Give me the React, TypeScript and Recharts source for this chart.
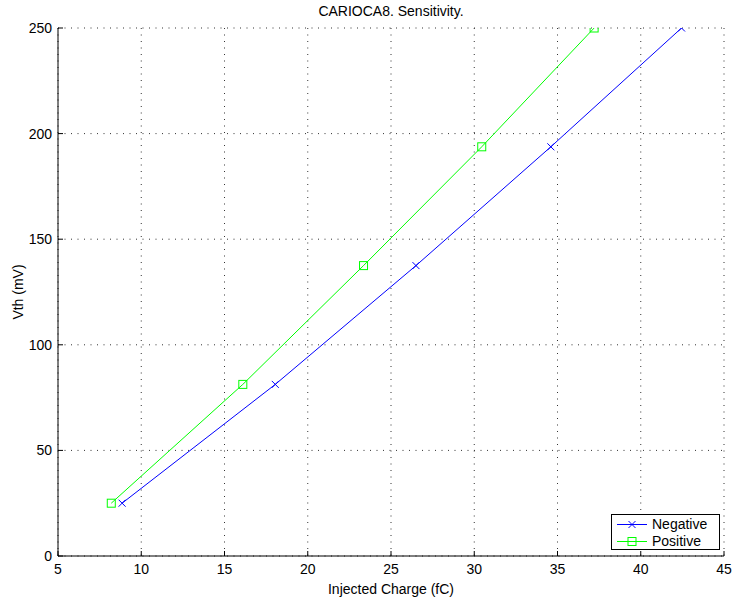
import { CartesianGrid, Label, Legend, Line, LineChart, XAxis, YAxis } from 'recharts';

const vth = [25, 81.25, 137.5, 193.75, 250];
const negativeCharge = [8.85, 18.05, 26.5, 34.6, 42.45];
const positiveCharge = [8.2, 16.1, 23.35, 30.45, 37.2];

const xTicks = [5, 10, 15, 20, 25, 30, 35, 40, 45];
const yTicks = [0, 50, 100, 150, 200, 250];

const negative = negativeCharge.map((q, i) => ({ q, v: vth[i] }));
const positive = positiveCharge.map((q, i) => ({ q, v: vth[i] }));

const FONT = '"Liberation Sans", Arial, Helvetica, sans-serif';
const FS = 14;
const BLUE = '#0000ff';
const GREEN = '#00ff00';

function Cross({ cx, cy, color, index }: any) {
  const s = 3.5;
  return (
    <g key={`x-${index}`}>
      <line x1={cx - s} y1={cy - s} x2={cx + s} y2={cy + s} stroke={color} strokeWidth={1} />
      <line x1={cx - s} y1={cy + s} x2={cx + s} y2={cy - s} stroke={color} strokeWidth={1} />
    </g>
  );
}

function Square({ cx, cy, color, index }: any) {
  const s = 4;
  return (
    <rect key={`s-${index}`} x={cx - s} y={cy - s} width={2 * s} height={2 * s} fill="none" stroke={color} strokeWidth={1} />
  );
}

// inward ticks, matlab style
const BottomTick = ({ x, y, payload }: any) => (
  <g>
    <line x1={x} y1={y} x2={x} y2={y - 5} stroke="#000" />
    <text x={x} y={y + 18} textAnchor="middle" fontSize={FS} fontFamily={FONT} fill="#000">
      {payload.value}
    </text>
  </g>
);

const LeftTick = ({ x, y, payload }: any) => (
  <g>
    <line x1={x} y1={y} x2={x + 5} y2={y} stroke="#000" />
    <text x={x - 6} y={y + 5} textAnchor="end" fontSize={FS} fontFamily={FONT} fill="#000">
      {payload.value}
    </text>
  </g>
);

const TopTick = ({ x, y }: any) => <line x1={x} y1={y} x2={x} y2={y + 5} stroke="#000" />;
const RightTick = ({ x, y }: any) => <line x1={x} y1={y} x2={x - 5} y2={y} stroke="#000" />;

function LegendBox() {
  const items = [
    { name: 'Negative', color: BLUE, Mark: Cross },
    { name: 'Positive', color: GREEN, Mark: Square },
  ];
  return (
    <div
      style={{
        width: 107,
        height: 34,
        border: '1px solid #000',
        background: '#fff',
        fontFamily: FONT,
        fontSize: FS,
        boxSizing: 'content-box',
      }}
    >
      {items.map(({ name, color, Mark }, i) => (
        <div key={name} style={{ display: 'flex', alignItems: 'center', height: 17, marginTop: i === 0 ? 1 : 0 }}>
          <svg width={40} height={17} style={{ display: 'block' }}>
            <line x1={5} y1={8.5} x2={35} y2={8.5} stroke={color} />
            <Mark cx={20} cy={8.5} color={color} index={i} />
          </svg>
          <span style={{ lineHeight: '17px' }}>{name}</span>
        </div>
      ))}
    </div>
  );
}

export default function App() {
  return (
    <div style={{ position: 'absolute', left: 0, top: 0, width: 736, height: 599, background: '#fff' }}>
      <div
        style={{
          position: 'absolute',
          left: 58,
          width: 666,
          top: 3,
          textAlign: 'center',
          fontFamily: FONT,
          fontSize: FS,
          zIndex: 1,
        }}
      >
        CARIOCA8. Sensitivity.
      </div>
      <LineChart width={736} height={599} margin={{ top: 28, right: 12, bottom: 0, left: 0 }}>
        <CartesianGrid stroke="#333" strokeDasharray="1 5.5" />
        <XAxis
          dataKey="q"
          type="number"
          domain={[5, 45]}
          ticks={xTicks}
          allowDataOverflow
          height={43}
          tickSize={0}
          tickMargin={0}
          tick={<BottomTick />}
          axisLine={{ stroke: '#000' }}
          tickLine={false}
        >
          <Label value="Injected Charge (fC)" position="insideBottom" offset={5} style={{ fontSize: FS, fontFamily: FONT, fill: '#000' }} />
        </XAxis>
        <XAxis
          xAxisId="top"
          orientation="top"
          type="number"
          domain={[5, 45]}
          ticks={xTicks}
          allowDataOverflow
          height={0}
          tickSize={0}
          tickMargin={0}
          tick={<TopTick />}
          axisLine={{ stroke: '#000' }}
          tickLine={false}
        />
        <YAxis
          dataKey="v"
          type="number"
          domain={[0, 250]}
          ticks={yTicks}
          allowDataOverflow
          width={58}
          tickSize={0}
          tickMargin={0}
          tick={<LeftTick />}
          axisLine={{ stroke: '#000' }}
          tickLine={false}
        >
          <Label value="Vth (mV)" angle={-90} position="insideLeft" offset={18} style={{ textAnchor: 'middle', fontSize: FS, fontFamily: FONT, fill: '#000' }} />
        </YAxis>
        <YAxis
          yAxisId="right"
          orientation="right"
          type="number"
          domain={[0, 250]}
          ticks={yTicks}
          allowDataOverflow
          width={0}
          tickSize={0}
          tickMargin={0}
          tick={<RightTick />}
          axisLine={{ stroke: '#000' }}
          tickLine={false}
        />
        <Legend
          layout="horizontal"
          verticalAlign="middle"
          align="center"
          wrapperStyle={{ left: 611, top: 514, width: 'auto' }}
          content={() => <LegendBox />}
        />
        <Line
          data={negative}
          dataKey="v"
          name="Negative"
          stroke={BLUE}
          strokeWidth={1}
          dot={(p: any) => <Cross key={`n-${p.index}`} {...p} color={BLUE} />}
          activeDot={false}
          isAnimationActive={false}
        />
        <Line
          data={positive}
          dataKey="v"
          name="Positive"
          stroke={GREEN}
          strokeWidth={1}
          dot={(p: any) => <Square key={`p-${p.index}`} {...p} color={GREEN} />}
          activeDot={false}
          isAnimationActive={false}
        />
      </LineChart>
    </div>
  );
}
